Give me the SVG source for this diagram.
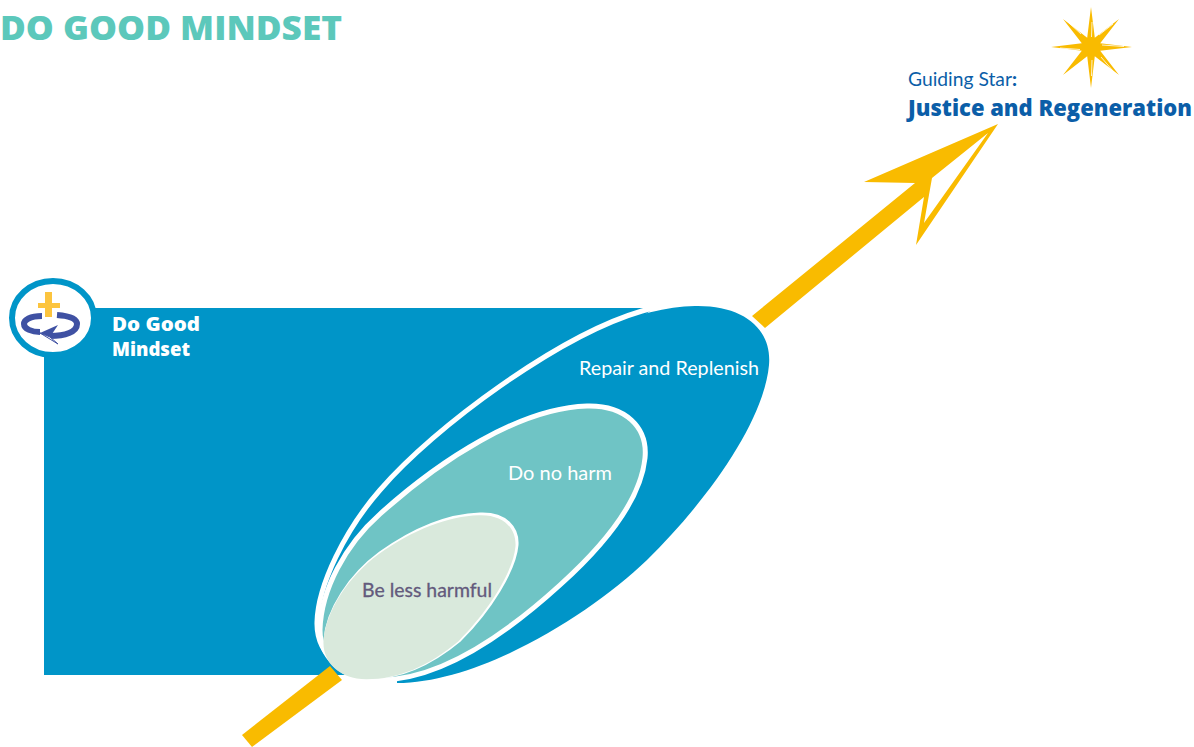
<svg xmlns="http://www.w3.org/2000/svg" width="1194" height="747" viewBox="0 0 1194 747">
<style>
text{font-family:"Lato","Noto Sans","Liberation Sans",sans-serif}
.b{font-family:"Open Sans","Lato","Liberation Sans",sans-serif;font-weight:800}
.gold{fill:#f9bb00}
.lbl{font-size:19px;fill:#fff}
.edge{fill:none;stroke:#fff;stroke-linejoin:round}
.ring{fill:none;stroke:#3f51a3;stroke-width:6}
.slit{fill:none;stroke:#fff;stroke-width:.8}
</style>
<rect width="1194" height="747" fill="#fff"/>
<text id="title" x="0" y="40" class="b" font-size="33" fill="#5cc8bb" textLength="342" lengthAdjust="spacingAndGlyphs">DO GOOD MINDSET</text>
<g id="do-good-mindset">
<path d="M44 308 H654 L400 500 L345 675 H44 Z" fill="#0095c8"/>
<ellipse cx="53" cy="318" rx="41" ry="37" fill="#fff" stroke="#0095c8" stroke-width="6"/>
<path d="M45 292 H52 V303 H60 V308 H52 V317 H45 V308 H38 V303 H45 Z" fill="#fcc43e"/>
<path class="ring" d="M42 316 C30 316 24 320 24 324 C24 329 32 332 40 332"/>
<path class="ring" d="M57 315 C70 316 77 319 77 324 C77 332 65 336 50 336"/>
<path d="M40 333 L58 325 L50 337 Z" fill="#3f51a3"/>
<path d="M40 333 L58 344 L50 337 Z" fill="#fff" stroke="#3f51a3" stroke-width="1"/>
<text x="112" y="331" class="b" font-size="19" fill="#fff" textLength="88" lengthAdjust="spacingAndGlyphs">Do Good</text>
<text x="112" y="356" class="b" font-size="19" fill="#fff" textLength="78" lengthAdjust="spacingAndGlyphs">Mindset</text>
</g>
<g id="connectors">
<path class="gold" d="M242 735 L330 666 L342 680 L252 747 Z"/>
<path class="gold" fill-rule="evenodd" d="M752 316 L915 183 L864 182 L998 124 L916 245 L924 197 L765 328 Z M932 178 L924 223 L988 133 Z"/>
</g>
<g id="repair-and-replenish">
<path fill="#0095c8" d="M695 306 C745 305 772 330 769 365 C764 420 710 498 647 560 C590 615 480 683 397 683 C345 682 316 655 317 622 C318 585 345 530 380 490 C445 415 590 308 695 306 Z"/>
<path class="edge" stroke-width="5" d="M700 301 Q668 303 642 311 C560 335 435 426 380 490 C345 530 318 585 317 622 C316 655 345 682 397 683"/>
<text x="579" y="375" class="lbl" textLength="180" lengthAdjust="spacingAndGlyphs">Repair and Replenish</text>
</g>
<g id="do-no-harm">
<path class="edge" stroke-width="5" style="fill:#6fc4c5" d="M587 406 C625 405 648 427 645 458 C641 497 610 540 560 585 C505 635 440 680 380 680 C340 680 320 655 320 630 C321 590 345 545 380 514 C440 460 520 408 587 406 Z"/>
<text x="508" y="480" class="lbl" textLength="104" lengthAdjust="spacingAndGlyphs">Do no harm</text>
</g>
<g id="be-less-harmful">
<path class="edge" stroke-width="3" style="fill:#fff" d="M480 514 C506 513 518 528 517 545 C515 570 490 610 460 640 C430 665 400 678 368 678 C340 678 324 660 325 640 C327 610 350 575 380 553 C415 528 450 515 480 514 Z"/>
<path fill="#d9e9dc" transform="translate(-1.5 1.2)" d="M480 514 C506 513 518 528 517 545 C515 570 490 610 460 640 C430 665 400 678 368 678 C340 678 324 660 325 640 C327 610 350 575 380 553 C415 528 450 515 480 514 Z"/>
<text x="362" y="597" font-size="19" fill="#635a7c" stroke="#635a7c" stroke-width=".3" textLength="130" lengthAdjust="spacingAndGlyphs">Be less harmful</text>
</g>
<g id="guiding-star">
<path class="gold" d="M1091 7 L1094.800 37.800 L1119 19 L1100.200 43.200 L1132 47 L1100.200 50.800 L1119 75 L1094.800 56.200 L1091 88 L1087.200 56.200 L1063 75 L1081.800 50.800 L1051 47 L1081.800 43.200 L1063 19 L1087.200 37.800 Z"/>
<circle class="gold" cx="1091" cy="47" r="9"/>
<path class="slit" d="M1092 22 L1091.500 37 M1113 24 L1099 35 M1069 23 L1081 34 M1102 45 L1124 46.500 M1060 48 L1080 49.500 M1113 71 L1101 57 M1092 60 L1091.500 76"/>
<text x="908" y="86" font-size="19" fill="#0b5ea8" textLength="109" lengthAdjust="spacingAndGlyphs">Guiding Star<tspan font-weight="900">:</tspan></text>
<text x="908" y="116" class="b" font-size="22" fill="#0b5ea8" textLength="284" lengthAdjust="spacingAndGlyphs">Justice and Regeneration</text>
</g>
</svg>
